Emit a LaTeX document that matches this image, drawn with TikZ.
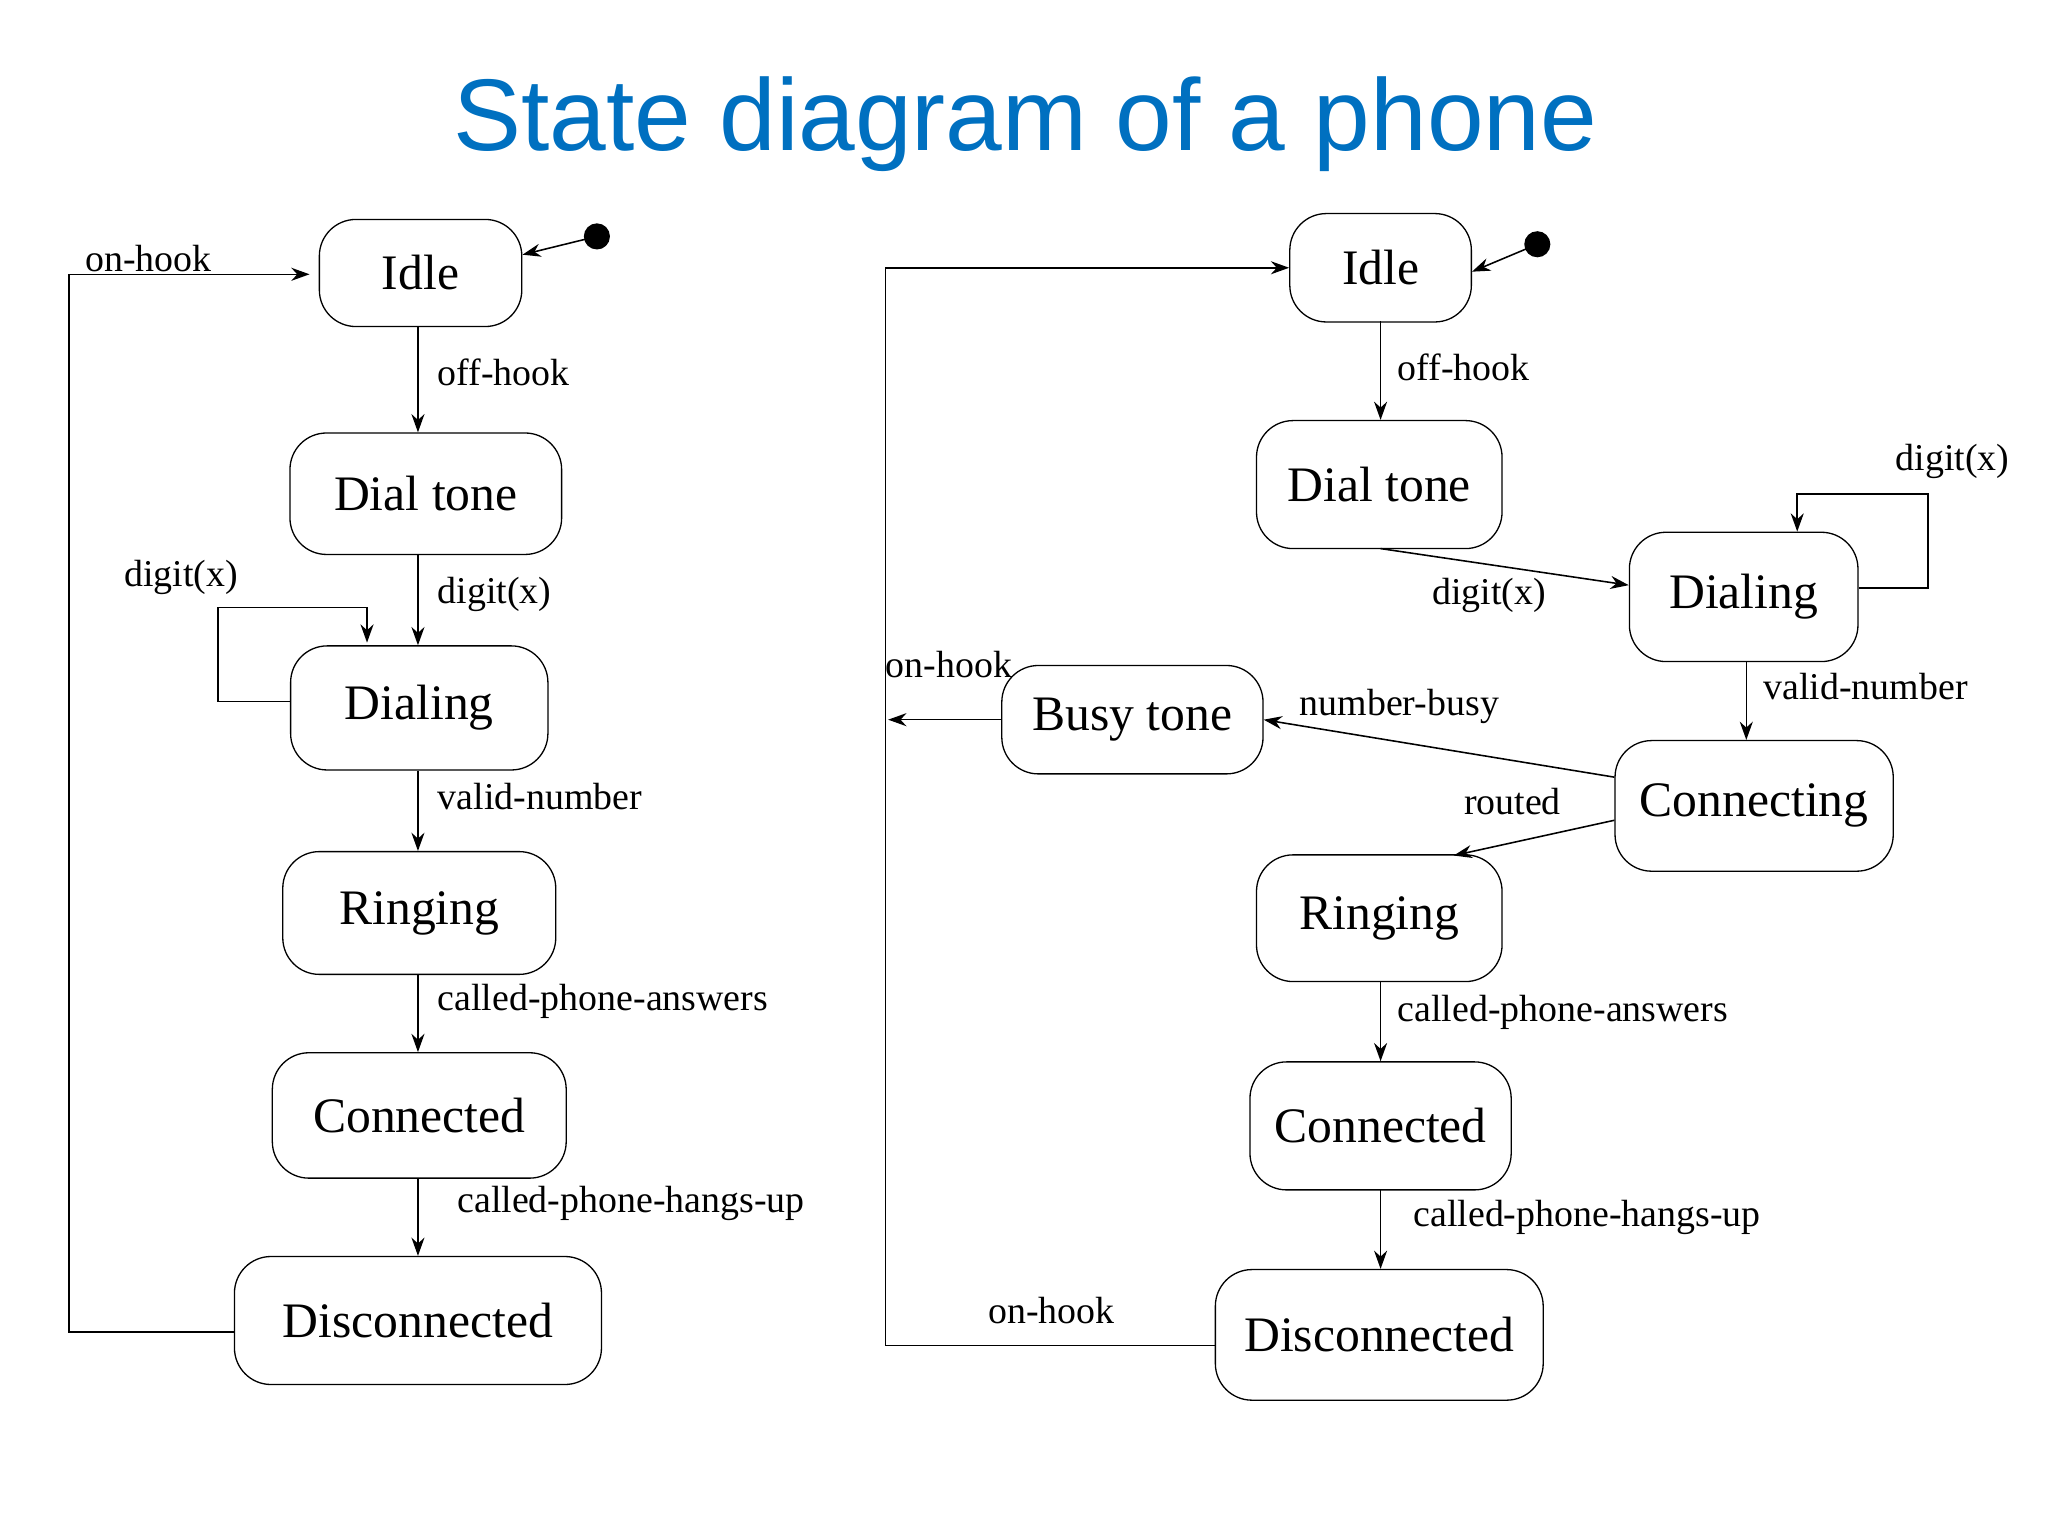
\documentclass[tikz,border=0pt]{standalone}
\usepackage{fontspec}
\setmainfont{Liberation Serif}
\newfontfamily\titlefont{Liberation Sans}
\usetikzlibrary{arrows.meta}
\definecolor{tblue}{RGB}{0,112,192}
\begin{document}
\begin{tikzpicture}[x=1pt,y=-1pt,
 st/.style={draw,rounded corners=28pt,font=\fontsize{38}{40}\selectfont,inner sep=0pt,line width=1pt},
 lb/.style={font=\fontsize{29}{30}\selectfont,inner sep=0pt},
 ar/.style={-{Stealth[length=14pt,width=10pt]},line width=1.2pt},
 ln/.style={line width=1.2pt}]
\useasboundingbox (0,0) rectangle (1568,1176);
\node[font=\titlefont\fontsize{78}{80}\selectfont,text=tblue] (title) at (785,95) {State diagram of a phone};
% left
\node[st,minimum width=155pt,minimum height=82pt] (LI) at (322,209) {Idle};
\node[st,minimum width=208pt,minimum height=93pt] (LD) at (326,378) {Dial tone};
\node[st,minimum width=197pt,minimum height=95pt] (LG) at (321,542) {Dialing};
\node[st,minimum width=209pt,minimum height=94pt] (LR) at (321,699) {Ringing};
\node[st,minimum width=225pt,minimum height=96pt] (LC) at (321,854) {Connected};
\node[st,minimum width=281pt,minimum height=98pt] (LX) at (320,1011) {Disconnected};
\fill (457,181) circle (10pt) coordinate (LDot);
\draw[ar] (LDot) -- (LI.east |- 0,195);
\draw[ar] (320,250) -- (LD.north -| 320,0);
\draw[ar] (320,425) -- (LG.north -| 320,0);
\draw[ar] (320,590) -- (LR.north -| 320,0);
\draw[ar] (320,746) -- (LC.north -| 320,0);
\draw[ar] (320,902) -- (LX.north -| 320,0);
\draw[ar] (LX.west |- 0,1020) -- (53,1020) -- (53,210) -- (237,210);
\draw[ar] (LG.west |- 0,537) -- (167,537) -- (167,465) -- (281,465) -- (281,492);
\node[lb,anchor=west] (l1) at (335,285) {off-hook};
\node[lb,anchor=west] (l2) at (335,455) {digit(x)};
\node[lb,anchor=west] (l3) at (95,442) {digit(x)};
\node[lb,anchor=west] (l4) at (335,610) {valid-number};
\node[lb,anchor=west] (l5) at (335,767) {called-phone-answers};
\node[lb,anchor=west] (l6) at (350,921) {called-phone-hangs-up};
\node[lb,anchor=west] (l7) at (65,198) {on-hook};
% right
\node[st,minimum width=139pt,minimum height=83pt] (RI) at (1057,205) {Idle};
\node[st,minimum width=188pt,minimum height=98pt] (RD) at (1056,371) {Dial tone};
\node[st,minimum width=175pt,minimum height=99pt] (RG) at (1335,457) {Dialing};
\node[st,minimum width=213pt,minimum height=100pt] (RC) at (1343,617) {Connecting};
\node[st,minimum width=200pt,minimum height=83pt] (RB) at (867,551) {Busy tone};
\node[st,minimum width=188pt,minimum height=97pt] (RR) at (1056,703) {Ringing};
\node[st,minimum width=200pt,minimum height=98pt] (RN) at (1057,862) {Connected};
\node[st,minimum width=251pt,minimum height=100pt] (RX) at (1056,1022) {Disconnected};
\fill (1177,187) circle (10pt) coordinate (RDot);
\draw[ar] (RDot) -- (RI.east |- 0,208);
\draw[ar] (1057,246) -- (RD.north -| 1057,0);
\draw[ar] (1057,420) -- (RG.west |- 0,448);
\draw[ar] (RG.east |- 0,450) -- (1476,450) -- (1476,378) -- (1376,378) -- (1376,407);
\draw[ar] (1337,507) -- (RC.north -| 1337,0);
\draw[ar] (RC.west |- 0,595) -- (RB.east |- 0,551);
\draw[ar] (RC.west |- 0,628) -- (1113,655);
\draw[ar] (1057,752) -- (RN.north -| 1057,0);
\draw[ar] (1057,911) -- (RX.north -| 1057,0);
\draw[ar] (RX.west |- 0,1030) -- (678,1030) -- (678,205) -- (RI.west |- 0,205);
\draw[ar] (RB.west) -- (680,551);
\node[lb,anchor=west] (r1) at (1070,281) {off-hook};
\node[lb,anchor=center] (r2) at (1140,456) {digit(x)};
\node[lb,anchor=center] (r3) at (1495,353) {digit(x)};
\node[lb,anchor=west] (r4) at (1350,526) {valid-number};
\node[lb,anchor=west] (r5) at (995,541) {number-busy};
\node[lb,anchor=center] (r6) at (1158,614) {routed};
\node[lb,anchor=west] (r7) at (1070,775) {called-phone-answers};
\node[lb,anchor=west] (r8) at (1082,932) {called-phone-hangs-up};
\node[lb,anchor=center] (r9) at (805,1003) {on-hook};
\node[lb,anchor=west] (r10) at (678,509) {on-hook};
\end{tikzpicture}
\end{document}
